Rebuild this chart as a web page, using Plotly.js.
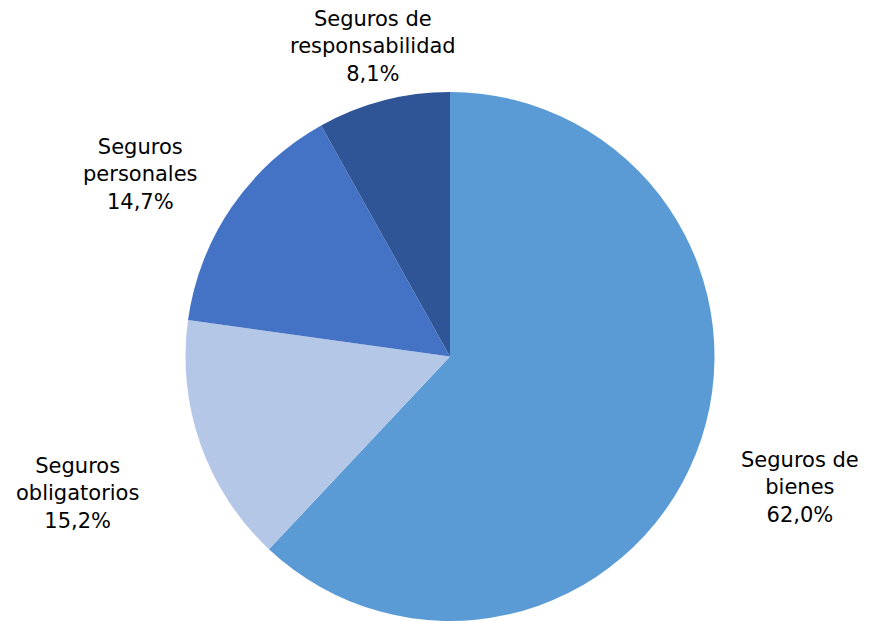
<!DOCTYPE html>
<html>
<head>
<meta charset="utf-8">
<script src="https://cdn.plot.ly/plotly-3.0.1.min.js"></script>
<style>html,body{margin:0;padding:0;background:#fff;}#chart{width:877px;height:621px;}</style>
</head>
<body>
<div id="chart"></div>
<script>
const labels = ["Seguros de bienes", "Seguros obligatorios", "Seguros personales", "Seguros de responsabilidad"];
const labelLines = ["Seguros de<br>bienes", "Seguros<br>obligatorios", "Seguros<br>personales", "Seguros de<br>responsabilidad"];
const values = [62.0, 15.2, 14.7, 8.1];
const colors = ["#5B9BD5", "#B4C7E7", "#4472C4", "#2F5597"];

// label anchor positions in pixels (centre of text block)
const labelPos = [[800, 487], [77, 493], [140, 174], [373, 46]];

const W = 877, H = 621;
const fmt = v => v.toFixed(1).replace(".", ",") + "%";

const annotations = labels.map((l, i) => ({
  xref: "paper", yref: "paper",
  x: labelPos[i][0] / W, y: 1 - labelPos[i][1] / H,
  xanchor: "center", yanchor: "middle",
  text: labelLines[i] + "<br>" + fmt(values[i]),
  showarrow: false,
  align: "center",
  font: {family: "DejaVu Sans, Verdana, sans-serif", size: 21, color: "#000"}
}));

const trace = {
  type: "pie",
  labels: labels,
  values: values,
  sort: false,
  direction: "clockwise",
  rotation: 0,
  marker: {colors: colors, line: {width: 0}},
  textinfo: "none",
  hoverinfo: "label+percent",
  domain: {x: [0.2115, 0.8147], y: [0, 0.852]},
  showlegend: false
};

const layout = {
  width: W, height: H,
  margin: {l: 0, r: 0, t: 0, b: 0},
  paper_bgcolor: "#fff",
  plot_bgcolor: "#fff",
  showlegend: false,
  annotations: annotations
};

Plotly.newPlot("chart", [trace], layout, {displayModeBar: false, staticPlot: true});
</script>
</body>
</html>
